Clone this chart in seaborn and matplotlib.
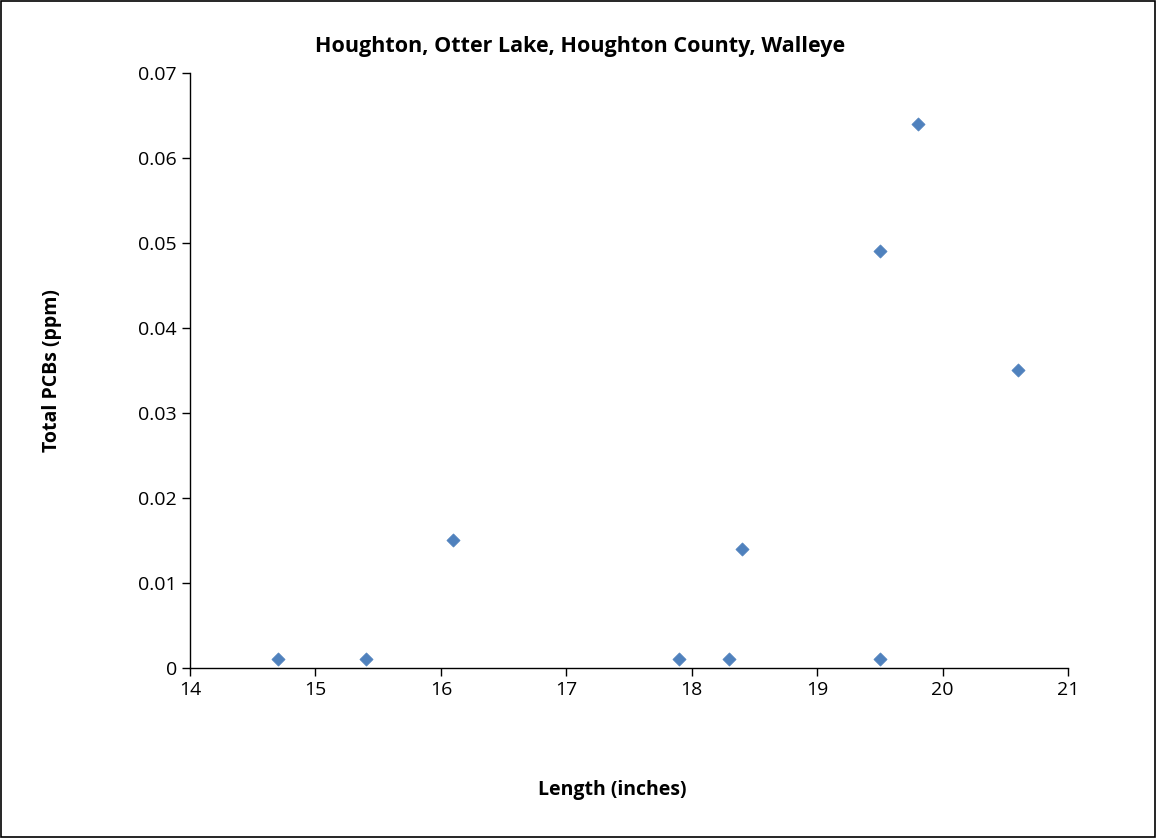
import matplotlib
matplotlib.use("Agg")
import matplotlib.pyplot as plt
import seaborn as sns
import pandas as pd
from matplotlib.patches import Rectangle

length = [14.7, 15.4, 16.1, 17.9, 18.3, 18.4, 19.5, 19.5, 19.8, 20.6]
pcbs = [0.001, 0.001, 0.015, 0.001, 0.001, 0.014, 0.001, 0.049, 0.064, 0.035]
xticks = [14, 15, 16, 17, 18, 19, 20, 21]
yticks = [0, 0.01, 0.02, 0.03, 0.04, 0.05, 0.06, 0.07]
ytick_labels = ["0", "0.01", "0.02", "0.03", "0.04", "0.05", "0.06", "0.07"]

df = pd.DataFrame({"Length": length, "PCBs": pcbs})

sns.set_theme(style="white")
plt.rcParams['font.family'] = ['Open Sans', 'DejaVu Sans']
plt.rcParams['text.color'] = 'black'
plt.rcParams['xtick.color'] = 'black'
plt.rcParams['ytick.color'] = 'black'
plt.rcParams['axes.labelcolor'] = 'black'

fig = plt.figure(figsize=(11.56, 8.38), dpi=100)
ax = fig.add_axes([0.1644, 0.2029, 0.7595, 0.71])
sns.scatterplot(data=df, x="Length", y="PCBs", marker="D", s=45, color="#4F81BD",
                edgecolor="#4F81BD", linewidth=0.5, ax=ax, legend=False)
ax.set_xlim(14, 21)
ax.set_ylim(0, 0.07)
ax.set_xticks(xticks)
ax.set_xticklabels([str(t) for t in xticks], fontsize=14)
ax.set_yticks(yticks)
ax.set_yticklabels(ytick_labels, fontsize=14)
ax.tick_params(axis="both", direction="out", length=6, width=1, color="black",
               labelcolor="black", bottom=True, left=True)
for s in ["top", "right"]:
    ax.spines[s].set_visible(False)
for s in ["left", "bottom"]:
    ax.spines[s].set_color("black")
    ax.spines[s].set_linewidth(1)
ax.set_xlabel("")
ax.set_ylabel("")
fig.text(0.53, 0.057, "Length (inches)", ha="center", va="center", fontsize=14,
         fontweight="bold", color="black")
fig.text(0.045, 0.558, "Total PCBs (ppm)", ha="center", va="center", rotation=90,
         fontsize=14, fontweight="bold", color="black")
fig.text(0.502, 0.944, "Houghton, Otter Lake, Houghton County, Walleye", ha="center",
         va="center", fontsize=15.5, fontweight="bold", color="black")
fig.patches.append(Rectangle((0.001, 0.001), 0.998, 0.998, transform=fig.transFigure,
                             fill=False, edgecolor="black", linewidth=1.2))
fig.savefig("out.png", dpi=100)
